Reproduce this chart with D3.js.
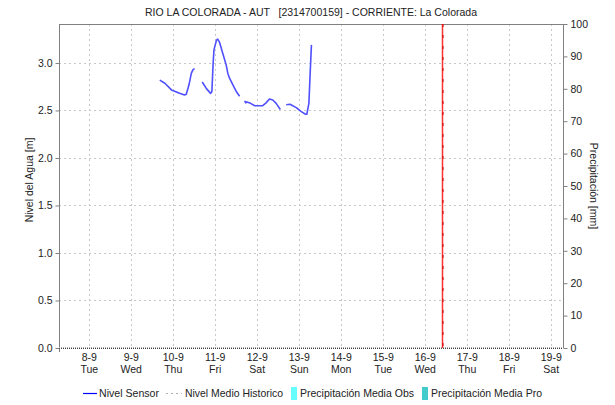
<!DOCTYPE html>
<html><head><meta charset="utf-8">
<script src="https://cdn.jsdelivr.net/npm/d3@7"></script>
<style>
body{margin:0;background:#fff;}
svg{display:block;font-family:"Liberation Sans",Arial,sans-serif;}
text{white-space:pre;}
</style></head><body>
<svg id="c" width="615" height="405"></svg>
<script>
// ---- data ----
const chartTitle = "RIO LA COLORADA - AUT   [2314700159] - CORRIENTE: La Colorada";
const sensorTimes = [
 "2020-09-09T16:19","2020-09-09T19:12","2020-09-09T23:00","2020-09-10T03:36","2020-09-10T06:29","2020-09-10T07:26","2020-09-10T09:00","2020-09-10T10:19","2020-09-10T11:17","2020-09-10T12:14",
 null,
 "2020-09-10T16:34","2020-09-10T18:58","2020-09-10T21:22","2020-09-10T22:05","2020-09-10T22:48","2020-09-10T23:17","2020-09-11T00:43","2020-09-11T01:26","2020-09-11T02:24","2020-09-11T04:19","2020-09-11T06:14","2020-09-11T07:12","2020-09-11T08:10","2020-09-11T10:05","2020-09-11T12:00","2020-09-11T13:55",
 null,
 "2020-09-11T16:48","2020-09-11T17:26","2020-09-11T18:05","2020-09-11T20:10","2020-09-11T22:34","2020-09-12T03:07","2020-09-12T05:02","2020-09-12T06:58","2020-09-12T08:53","2020-09-12T10:48","2020-09-12T13:12",
 null,
 "2020-09-12T16:34","2020-09-12T18:43","2020-09-12T22:19","2020-09-13T00:58","2020-09-13T03:36","2020-09-13T04:19","2020-09-13T05:31","2020-09-13T06:14","2020-09-13T06:58"
];
const sensorLevels = [
 2.82,2.786,2.716,2.68,2.663,2.67,2.77,2.89,2.93,2.94,
 null,
 2.80,2.73,2.68,2.70,3.00,3.14,3.24,3.25,3.22,3.10,2.98,2.89,2.84,2.77,2.70,2.65,
 null,
 2.60,2.58,2.59,2.575,2.55,2.55,2.58,2.62,2.61,2.575,2.51,
 null,
 2.56,2.565,2.53,2.49,2.46,2.46,2.575,2.89,3.19
];
const dayLabels = ["8-9","9-9","10-9","11-9","12-9","13-9","14-9","15-9","16-9","17-9","18-9","19-9"];
const weekdayLabels = ["Tue","Wed","Thu","Fri","Sat","Sun","Mon","Tue","Wed","Thu","Fri","Sat"];
const dayDates = ["2020-09-08","2020-09-09","2020-09-10","2020-09-11","2020-09-12","2020-09-13","2020-09-14","2020-09-15","2020-09-16","2020-09-17","2020-09-18","2020-09-19"];
const levelTicks = [0,0.5,1.0,1.5,2.0,2.5,3.0];
const precipTicks = [0,10,20,30,40,50,60,70,80,90,100];
const xRange = ["2020-09-07T06:43","2020-09-19T06:43"];
const levelMax = 3.41;
const nowTime = "2020-09-16T09:36";
const legendItems = ["Nivel Sensor","Nivel Medio Historico","Precipitación Media Obs","Precipitación Media Pro"];

// ---- chart ----
const parse = d3.isoParse;
const svg = d3.select("#c");
const L = 59, R = 563, T = 24, B = 348;
const x = d3.scaleTime().domain(xRange.map(s=>new Date(s))).range([L,R]);
const y = d3.scaleLinear().domain([0,levelMax]).range([B,T]);
const y2 = d3.scaleLinear().domain([0,100]).range([B,T]);
const grid = "#c8c8c8", axisCol = "#808080", txt = "#222";

// grid
svg.append("g").selectAll("line").data(levelTicks.filter(v=>v>0)).join("line")
  .attr("x1",L).attr("x2",R).attr("y1",d=>Math.round(y(d))+0.5).attr("y2",d=>Math.round(y(d))+0.5)
  .attr("stroke",grid).attr("stroke-dasharray","2,3");
svg.append("g").selectAll("line").data(dayDates).join("line")
  .attr("x1",d=>Math.round(x(parse(d)))+0.5).attr("x2",d=>Math.round(x(parse(d)))+0.5)
  .attr("y1",T).attr("y2",B)
  .attr("stroke",grid).attr("stroke-dasharray","2,3");

// frame
svg.append("line").attr("x1",L).attr("x2",R).attr("y1",T+0.5).attr("y2",T+0.5).attr("stroke",axisCol);
svg.append("line").attr("x1",L+0.5).attr("x2",L+0.5).attr("y1",T).attr("y2",B+4).attr("stroke",axisCol);
svg.append("line").attr("x1",R+0.5).attr("x2",R+0.5).attr("y1",T).attr("y2",B).attr("stroke",axisCol);
svg.append("line").attr("x1",L).attr("x2",R).attr("y1",B+0.5).attr("y2",B+0.5).attr("stroke","#444").attr("stroke-dasharray","1,1");
svg.append("line").attr("x1",L).attr("x2",R).attr("y1",B-0.5).attr("y2",B-0.5).attr("stroke","#aaa").attr("stroke-dasharray","1,1");

// left axis
const ga = svg.append("g").attr("transform",`translate(${L+0.5},0)`)
  .call(d3.axisLeft(y).tickValues(levelTicks).tickFormat(d3.format(".1f")).tickSize(4).tickPadding(3));
ga.select(".domain").remove();
ga.selectAll(".tick line").attr("stroke",axisCol);
ga.selectAll("text").attr("font-size","10.5px").attr("fill",txt).attr("font-family","Liberation Sans, Arial");

// right axis
const gb = svg.append("g").attr("transform",`translate(${R+0.5},0)`)
  .call(d3.axisRight(y2).tickValues(precipTicks).tickSize(4).tickPadding(3));
gb.select(".domain").remove();
gb.selectAll(".tick line").attr("stroke",axisCol);
gb.selectAll("text").attr("font-size","10.5px").attr("fill",txt).attr("font-family","Liberation Sans, Arial");

// x labels
const xl = svg.append("g").attr("font-size","10.5px").attr("fill",txt).attr("text-anchor","middle");
dayDates.forEach((d,i)=>{
  const px = x(parse(d));
  xl.append("text").attr("x",px).attr("y",361).text(dayLabels[i]);
  xl.append("text").attr("x",px).attr("y",373).text(weekdayLabels[i]);
});

// now line
const nx = Math.round(x(parse(nowTime)));
svg.append("line").attr("x1",nx+0.5).attr("x2",nx+0.5)
  .attr("y1",T).attr("y2",B).attr("stroke","#ff3030").attr("stroke-width",1.5);
svg.append("line").attr("x1",nx+1).attr("x2",nx+1)
  .attr("y1",T).attr("y2",B).attr("stroke","#cc0000").attr("stroke-width",1).attr("stroke-dasharray","3,8");

// sensor line
const pts = sensorTimes.map((t,i)=>({t:t?parse(t):null, v:sensorLevels[i]}));
svg.append("path").datum(pts)
  .attr("d", d3.line().defined(d=>d.t!==null && d.v!==null).x(d=>x(d.t)).y(d=>y(d.v)))
  .attr("fill","none").attr("stroke","#5050ff").attr("stroke-width",1.6).attr("stroke-linejoin","round");

// titles
svg.append("text").attr("x",145).attr("y",16).attr("font-size","11px").attr("fill",txt)
  .attr("textLength",332).attr("lengthAdjust","spacingAndGlyphs").text(chartTitle);
svg.append("text").attr("transform","translate(33,180) rotate(-90)").attr("text-anchor","middle").attr("font-size","10.5px").attr("fill",txt).text("Nivel del Agua [m]");
svg.append("text").attr("transform","translate(590,186) rotate(90)").attr("text-anchor","middle").attr("font-size","10.5px").attr("fill",txt).text("Precipitación [mm]");

// legend
const lg = svg.append("g").attr("font-size","11px").attr("fill",txt);
const lx = [99,185,300,431], lw = [60,98,114,111];
lg.append("line").attr("x1",83).attr("x2",97).attr("y1",393.5).attr("y2",393.5).attr("stroke","#0000ff").attr("stroke-width",1.2);
lg.append("line").attr("x1",166).attr("x2",182).attr("y1",393.5).attr("y2",393.5).attr("stroke","#b0b0b0").attr("stroke-dasharray","2,3");
lg.append("rect").attr("x",291).attr("y",387).attr("width",6).attr("height",13).attr("fill","#66ffff");
lg.append("rect").attr("x",422).attr("y",387).attr("width",6).attr("height",13).attr("fill","#44cccc");
legendItems.forEach((s,i)=>{
  lg.append("text").attr("x",lx[i]).attr("y",397).attr("textLength",lw[i]).attr("lengthAdjust","spacingAndGlyphs").text(s);
});
</script></body></html>
